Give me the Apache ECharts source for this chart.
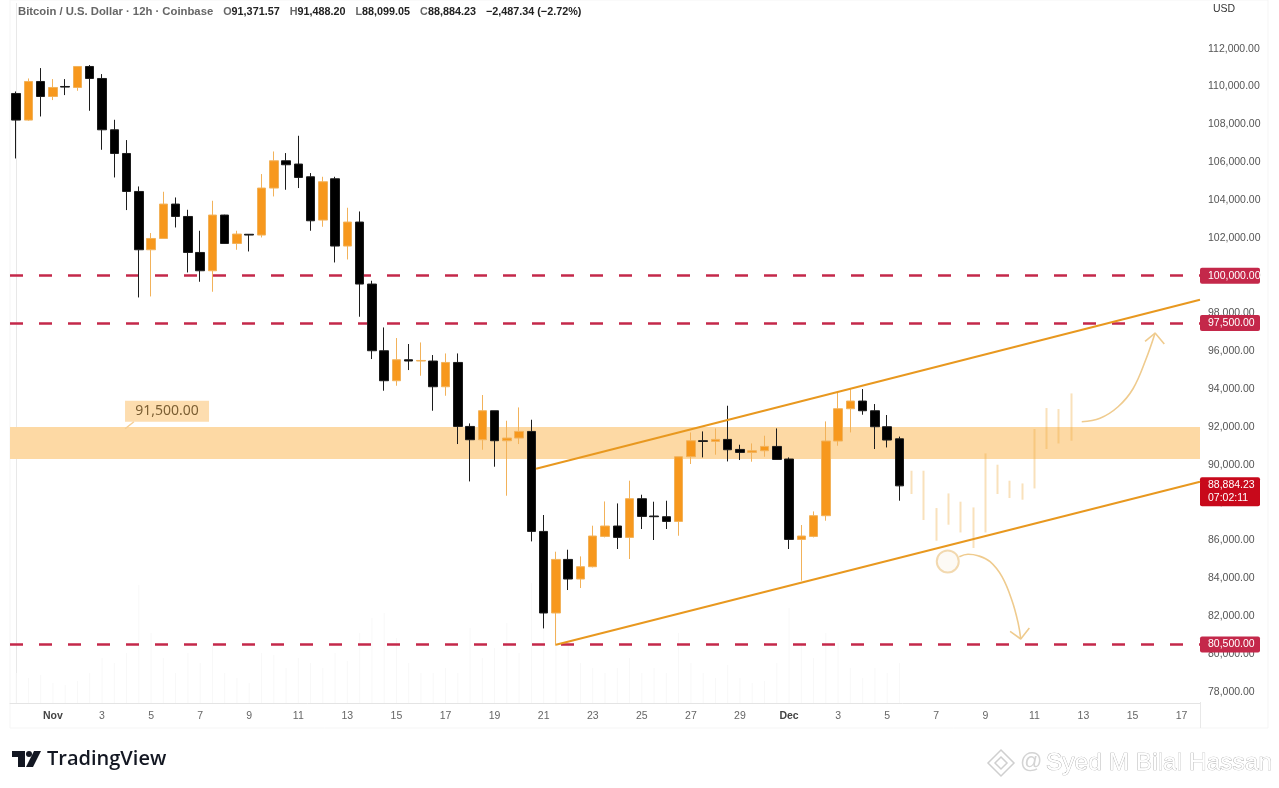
<!DOCTYPE html>
<html><head><meta charset="utf-8">
<style>html,body{margin:0;padding:0;background:#fff}#c{width:1279px;height:788px}</style>
<script src="https://cdn.jsdelivr.net/npm/echarts@6/dist/echarts.min.js"></script>
</head><body><div id="c"></div>
<script>
const opens=[109636,108229,110271,109477,110006,109953,111064,110429,107716,106463,104454,101371,101968,103787,103132,101228,100260,103206,101704,102190,102148,104634,106077,105903,105231,102941,105125,101567,102836,99557,96030,94444,95554,95486,95486,94126,95411,92027,91324,92857,91271,91413,91763,86475,82160,84994,83957,84608,86210,86760,86157,88204,87289,87252,87004,90425,91271,91234,91340,90811,90652,90742,90969,90303,86051,86210,87305,91255,92963,93370,92857,92011,91371.57];
const closes=[108229,110271,109477,109953,109975,111064,110429,107716,106463,104454,101371,101968,103787,103132,101228,100260,103206,101704,102201,102148,104634,106077,105866,105194,102904,104967,101567,102836,99557,96030,94444,95554,95486,95517,94126,95411,92027,91324,92857,91271,91413,91763,86475,82160,84994,83957,84608,86231,86760,86157,88204,87267,87252,87004,90425,91271,91234,91340,90795,90652,90742,90969,90282,86051,86231,87305,91255,92963,93370,92857,92011,91308,88884.23];
const lows=[106199,108192,108420,109287,109551,109779,108721,106659,105194,103470,98849,98902,101953,102550,100170,99679,99150,101688,101371,101281,102021,104190,104544,104634,102376,102587,100699,100858,97828,95591,93915,94179,95009,94708,92857,93650,91096,89119,90795,89896,88362,91096,85947,81345,80430,83375,83481,84571,86157,85544,85015,86601,86020,86601,86247,90039,90388,90531,90176,90250,90161,90425,90282,85544,83868,86157,87040,91006,91710,92646,90832,90916,88099.05];
const highs=[109742,110429,110979,110397,110397,111064,111138,110662,108245,107172,104718,102254,104438,104136,103486,102376,103962,103222,102376,102201,105374,106569,106484,107399,105427,105231,105231,103592,103396,99732,97262,96702,96385,96469,95803,95887,95887,92186,93688,92857,92328,93032,92381,87342,85401,85507,85153,86776,88060,87955,89156,88415,88046,88098,90425,91709,91763,91921,93121,91059,91128,91535,91921,90388,86813,87532,92292,93825,94004,94004,93211,92630,91488.20];
const projectedLows=[88452,87078,85983,86829,86421,85597,86421,88452,88240,88151,88748,90832,91128,91271];
const projectedHighs=[89684,89684,87711,88484,88046,87743,90599,90002,89156,89013,91890,92999,92947,93772];
const volumes=[30,25,28,20,18,22,30,45,40,50,118,70,45,30,50,40,60,30,25,20,50,48,35,45,40,35,50,42,70,85,90,65,40,30,30,35,30,75,45,55,80,50,120,110,85,60,40,35,30,35,45,30,35,30,70,40,30,25,38,25,20,22,40,95,60,45,70,60,35,25,35,30,40];
const tickLabels=['Nov','3','5','7','9','11','13','15','17','19','21','23','25','27','29','Dec','3','5','7','9','11','13','15','17'];
const levels=[100000,97500,80500];
const levelLabels=['100,000.00','97,500.00','80,500.00'];
const zoneTop=92000, zoneBottom=90300;
const lastPriceLevel=88884.23, lastPriceText='88,884.23', countdownText='07:02:11';
const upperChannel=[[42.38,89790],[96.5,98727]];
const lowerChannel=[[44.0,80483],[96.5,89103]];
const upCurve=[[86.86,92276],[88.35,92460],[89.82,93069],[91.04,94021],[92.11,95607],[92.84,96966]];
const upHead=[[92.02,96522],[92.84,96966],[93.59,96384]];
const downCurve=[[76.88,85136],[77.59,85269],[78.41,85190],[79.39,84873],[80.36,84079],[81.18,82809],[81.67,81647],[81.89,80785]];
const downHead=[[81.02,81187],[81.89,80785],[82.59,81367]];
const ringPoint=[75.94,84888];
const zoneLabelPoint=[12.3,92831], zoneLabelText='91,500.00';
const zoneLabelTail=[[8.88,91906],[9.6,92275]];

const CATS=97, FIRST_TICK=3, TICK_STEP=4;
const categories=Array.from({length:CATS},(_,i)=>{
  const k=(i-FIRST_TICK)/TICK_STEP;
  return Number.isInteger(k)&&k>=0&&k<tickLabels.length?tickLabels[k]:'';
});
const candles=opens.map((o,i)=>[o,closes[i],lows[i],highs[i]]);
const projected=Array(opens.length).fill('-').concat(projectedLows.map((l,i)=>[l,projectedHighs[i],l,projectedHighs[i]]));
const FONT='"Liberation Sans",sans-serif';
const ORANGE='#F7981D', ORANGE_EDGE='#F2B25A', BLACK='#000000', BLACK_EDGE='#1c1c1c', RED='#C4284A';
const arrowStyle={color:'#EFCB8E',width:1.6};
function overlayLine(name,data,lineStyle,smooth,z){
  return {name,type:'line',xAxisIndex:1,yAxisIndex:0,data,smooth:smooth||false,symbol:'none',silent:true,lineStyle,z:z||4,animation:false};
}
const badge=(text,bg,dy)=>({
  show:true,formatter:text,position:'end',distance:0,offset:[0,dy||0],color:'#fff',fontFamily:FONT,fontSize:10.5,
  backgroundColor:bg,borderRadius:2,padding:[2,3,1,8],width:49,align:'left',lineHeight:13
});
const chart=echarts.init(document.getElementById('c'),null,{renderer:'canvas'});
chart.setOption({
  animation:false,backgroundColor:'#fff',
  title:{left:18,top:3,padding:0,text:
    '{t|Bitcoin / U.S. Dollar · 12h · Coinbase}  {g|O}{k|91,371.57}  {g|H}{k|91,488.20}  {g|L}{k|88,099.05}  {g|C}{k|88,884.23}  {k|−2,487.34 (−2.72%)}',
    textStyle:{rich:{t:{color:'#666',fontFamily:FONT,fontSize:11.3},g:{color:'#666',fontFamily:FONT,fontSize:10.8},k:{color:'#222',fontFamily:FONT,fontSize:10.8}}}},
  grid:{left:10,right:79,top:3.4,bottom:85,containLabel:false},
  xAxis:[
    {type:'category',data:categories,boundaryGap:true,
     axisLine:{show:true,lineStyle:{color:'#e4e4e4',width:1}},axisTick:{show:false},splitLine:{show:false},
     axisLabel:{interval:0,margin:8,fontFamily:FONT,fontSize:10.5,color:'#666',
       formatter:v=>(v==='Nov'||v==='Dec')?'{b|'+v+'}':v,
       rich:{b:{fontFamily:FONT,fontSize:10.5,fontWeight:'bold',color:'#444'}}}},
    {type:'value',min:-0.5,max:96.5,show:false}
  ],
  yAxis:[
    {type:'value',position:'right',min:77400,max:114400,interval:200,scale:true,
     axisLine:{show:true,lineStyle:{color:'#e8e8e8',width:1}},axisTick:{show:false},splitLine:{show:false},
     axisLabel:{margin:8,fontFamily:FONT,fontSize:10.5,color:'#555',showMinLabel:false,showMaxLabel:false,
       formatter:v=>(v%2000===0&&v<=112000)?v.toLocaleString('en-US',{minimumFractionDigits:2,maximumFractionDigits:2}):''}},
    {type:'value',min:0,max:700,show:false}
  ],
  series:[
    {name:'Volume',type:'bar',xAxisIndex:0,yAxisIndex:1,data:volumes,barWidth:1,silent:true,z:0,itemStyle:{color:'#f8f8f8'}},
    {name:'BTCUSD',type:'candlestick',xAxisIndex:0,yAxisIndex:0,data:candles,barWidth:9,silent:true,z:3,
     itemStyle:{color:ORANGE,color0:BLACK,borderColor:ORANGE_EDGE,borderColor0:BLACK_EDGE,borderWidth:1},
     markArea:{silent:true,z:1,itemStyle:{color:'#FDD9A4',opacity:1},data:[[{yAxis:zoneTop},{yAxis:zoneBottom}]]},
     markLine:{silent:true,z:2,symbol:'none',precision:2,
       lineStyle:{color:RED,width:2.7,type:[13,16]},
       data:levels.map((v,i)=>({yAxis:v,label:badge(levelLabels[i],RED)})).concat([
         {yAxis:lastPriceLevel,lineStyle:{color:'rgba(255,255,255,0)',width:0},label:badge(lastPriceText+'\n'+countdownText,'#C8091B',6)}
       ])}},
    {name:'Projection',type:'candlestick',xAxisIndex:0,yAxisIndex:0,data:projected,barWidth:2.5,silent:true,z:2,
     itemStyle:{color:'#EEA93C',color0:'#EEA93C',borderColor:'#EEA93C',borderColor0:'#EEA93C',borderWidth:0,opacity:0.35}},
    overlayLine('Upper channel',upperChannel,{color:'#E8981F',width:2}),
    overlayLine('Lower channel',lowerChannel,{color:'#E8981F',width:2}),
    overlayLine('Up path',upCurve,arrowStyle,0.4),
    overlayLine('Up head',upHead,arrowStyle),
    overlayLine('Down path',downCurve,arrowStyle,0.4),
    overlayLine('Down head',downHead,arrowStyle),
    overlayLine('Label tail',zoneLabelTail,{color:'#F5CE94',width:1.5},false,2),
    {name:'Ring',type:'scatter',xAxisIndex:1,yAxisIndex:0,data:[ringPoint],symbol:'circle',symbolSize:22,silent:true,z:4,
     itemStyle:{color:'#FCF9F3',borderColor:'#EFCF9C',borderWidth:2}},
    {name:'Zone label',type:'scatter',xAxisIndex:1,yAxisIndex:0,data:[zoneLabelPoint],symbol:'rect',symbolSize:[84,21],silent:true,z:4,
     itemStyle:{color:'#FDD59B'},
     label:{show:true,position:'inside',formatter:zoneLabelText,color:'#5A3E14',fontFamily:'"Noto Sans",sans-serif',fontSize:14}}
  ],
  graphic:[
    {type:'rect',silent:true,z:-1,shape:{x:10,y:0,width:1258,height:728},style:{fill:'none',stroke:'#f5f5f5',lineWidth:1}},
    {type:'line',silent:true,shape:{x1:1200.5,y1:702,x2:1200.5,y2:728},style:{stroke:'#e8e8e8',lineWidth:1}},
    {type:'text',silent:true,x:1213,y:4,style:{text:'USD',fontFamily:FONT,fontSize:10.5,fill:'#333'}},
    {type:'polygon',silent:true,shape:{points:[[12,751],[25,751],[25,767],[18,767],[18,757],[12,757]]},style:{fill:'#131722'}},
    {type:'circle',silent:true,shape:{cx:29,cy:754,r:3},style:{fill:'#131722'}},
    {type:'polygon',silent:true,shape:{points:[[34,751],[41,751],[33,767],[26,767]]},style:{fill:'#131722'}},
    {type:'text',silent:true,x:47,y:749,style:{text:'TradingView',fontFamily:'"Open Sans",sans-serif',fontWeight:600,fontSize:20,fill:'#131722'}},
    {type:'polygon',silent:true,shape:{points:[[1001,750],[1014,763],[1001,776],[988,763]]},style:{fill:'#fff',stroke:'#cfcfcf',lineWidth:1.5}},
    {type:'polygon',silent:true,shape:{points:[[1001,757],[1007,763],[1001,769],[995,763]]},style:{fill:'#fff',stroke:'#cfcfcf',lineWidth:1.5}},
    {type:'text',silent:true,x:1020,y:751,style:{text:'@',fontFamily:FONT,fontSize:22,fill:'#d4d4d4'}},
    {type:'text',silent:true,x:1046,y:751,style:{text:'Syed M Bilal Hassan',fontFamily:FONT,fontSize:24.5,fill:'#fff',stroke:'#a8a8a8',lineWidth:0.7}}
  ]
});
</script></body></html>
